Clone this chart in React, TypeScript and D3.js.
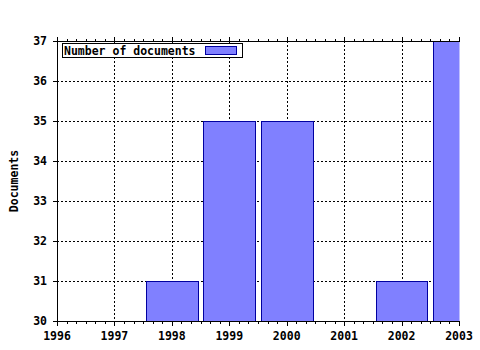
import React from "react";
import * as d3 from "d3";

const years = [1998, 1999, 2000, 2002, 2003];
const documents = [31, 35, 35, 31, 37];
const xTicks = [1996, 1997, 1998, 1999, 2000, 2001, 2002, 2003];
const yTicks = [30, 31, 32, 33, 34, 35, 36, 37];
const seriesName = "Number of documents";
const yLabel = "Documents";

const W = 480, H = 350;
const L = 57, R = 459, T = 41, B = 321;
const FONT = "'DejaVu Sans Mono', monospace";

export default function App() {
  const x = d3.scaleLinear().domain([1996, 2003]).range([L, R]);
  const y = d3.scaleLinear().domain([30, 37]).range([B, T]);
  const minor: number[] = [];
  for (let i = 0; i < xTicks.length - 1; i++) {
    for (let k = 1; k < 6; k++) minor.push(xTicks[i] + k / 6);
  }
  const bw = 0.9;
  return (
    <svg width={W} height={H} style={{ position: "absolute", left: 0, top: 0, background: "#fff" }}>
      <defs>
        <clipPath id="plot">
          <rect x={L} y={T} width={R - L + 0.5} height={B - T} />
        </clipPath>
      </defs>
      <rect x={0} y={0} width={W} height={H} fill="#fff" />
      {/* grid */}
      <g stroke="#000" strokeWidth={1} strokeDasharray="2,2" shapeRendering="crispEdges">
        {xTicks.slice(1, -1).map((t) => (
          <line key={"gx" + t} x1={Math.round(x(t)) + 0.5} x2={Math.round(x(t)) + 0.5} y1={T} y2={B} />
        ))}
        {yTicks.slice(1, -1).map((t) => (
          <line key={"gy" + t} x1={L} x2={R} y1={Math.round(y(t)) + 0.5} y2={Math.round(y(t)) + 0.5} />
        ))}
      </g>
      {/* bars */}
      <g clipPath="url(#plot)" shapeRendering="crispEdges">
        {years.map((yr, i) => {
          const x0 = Math.round(x(yr - bw / 2));
          const x1 = Math.round(x(yr + bw / 2));
          const yy = Math.round(y(documents[i]));
          return (
            <rect key={yr} x={x0 + 0.5} y={yy + 0.5} width={x1 - x0} height={B - yy}
              fill="#8080ff" stroke="#0000a0" strokeWidth={1} />
          );
        })}
      </g>
      {/* axes */}
      <g stroke="#000" strokeWidth={1} shapeRendering="crispEdges">
        <line x1={L + 0.5} x2={L + 0.5} y1={T} y2={B + 1} />
        <line x1={L} x2={R + 1} y1={B + 0.5} y2={B + 0.5} />
        <line x1={L} x2={R + 1} y1={T + 0.5} y2={T + 0.5} />
        {xTicks.map((t) => (
          <g key={"xt" + t}>
            <line x1={Math.round(x(t)) + 0.5} x2={Math.round(x(t)) + 0.5} y1={B} y2={B + 5} />
            <line x1={Math.round(x(t)) + 0.5} x2={Math.round(x(t)) + 0.5} y1={T - 4} y2={T} />
          </g>
        ))}
        {minor.map((t, i) => (
          <g key={"mt" + i}>
            <line x1={Math.round(x(t)) + 0.5} x2={Math.round(x(t)) + 0.5} y1={B} y2={B + 3} />
            <line x1={Math.round(x(t)) + 0.5} x2={Math.round(x(t)) + 0.5} y1={T - 2} y2={T} />
          </g>
        ))}
        {yTicks.map((t) => (
          <line key={"yt" + t} x1={L - 4} x2={L} y1={Math.round(y(t)) + 0.5} y2={Math.round(y(t)) + 0.5} />
        ))}
      </g>
      {/* tick labels */}
      <g fontFamily={FONT} fontWeight="bold" fontSize={11.5} fill="#000">
        {xTicks.map((t) => (
          <text key={"xl" + t} x={x(t)} y={340} textAnchor="middle">{t}</text>
        ))}
        {yTicks.map((t) => (
          <text key={"yl" + t} x={47} y={y(t) + 4} textAnchor="end">{t}</text>
        ))}
        <text transform={`translate(18,${(T + B) / 2}) rotate(-90)`} textAnchor="middle">{yLabel}</text>
      </g>
      {/* legend */}
      <g shapeRendering="crispEdges">
        <rect x={62.5} y={43.5} width={180} height={14} fill="#fff" stroke="#000" />
        <rect x={205.5} y={46.5} width={31} height={8} fill="#8080ff" stroke="#0000a0" />
      </g>
      <text x={64} y={55} fontFamily={FONT} fontWeight="bold" fontSize={11.5}>{seriesName}</text>
    </svg>
  );
}
